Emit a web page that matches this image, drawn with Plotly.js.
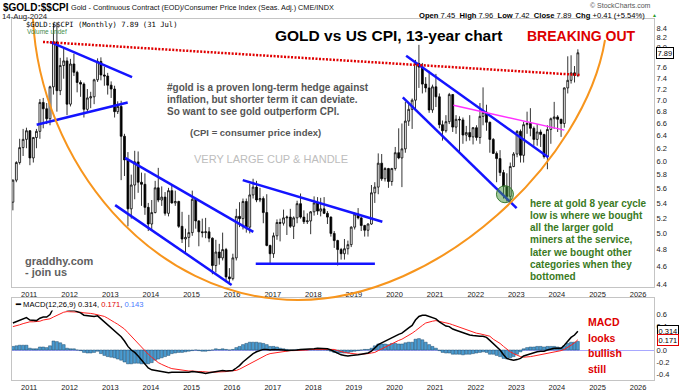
<!DOCTYPE html>
<html><head><meta charset="utf-8">
<script src="https://cdn.plot.ly/plotly-3.0.1.min.js"></script>
<style>html,body{margin:0;padding:0;background:#fff;}#chart{width:680px;height:391px;}</style>
</head><body><div id="chart"></div>
<script>
// ---------- DATA: $GOLD:$$CPI monthly, Aug 2010 .. Jul 2024 ----------
const firstYear = 2010, firstMonth = 8;
const open = [
5.41,5.72,5.98,6.21,6.34,
6.48,6.05,6.37,6.47,6.96,6.85,6.68,7.24,8.11,7.17,7.64,7.73,
6.93,7.67,7.51,7.32,7.29,6.84,7.04,7.06,7.37,7.72,7.46,7.44,
7.27,7.20,6.80,6.89,6.39,6.02,5.32,5.65,5.99,5.69,5.66,5.34,
5.12,5.27,5.61,5.44,5.48,5.26,5.57,5.40,5.42,5.09,4.93,4.95,
5.01,5.45,5.16,5.02,5.01,5.02,4.94,4.61,4.77,4.70,4.80,4.48,
4.46,4.70,5.22,5.19,5.42,5.08,5.51,5.62,5.44,5.46,5.27,4.85,
4.75,4.97,5.14,5.13,5.20,5.21,5.09,5.20,5.39,5.21,5.15,5.16,
5.28,5.40,5.29,5.32,5.26,5.21,5.00,4.91,4.80,4.75,4.81,4.86,
5.08,5.25,5.20,5.10,5.04,5.12,5.54,5.62,5.97,5.74,5.89,5.70,
5.89,6.13,6.05,6.19,6.64,6.84,7.00,7.68,7.61,7.29,7.22,6.83,
7.24,7.06,6.58,6.48,6.63,7.10,6.54,6.67,6.66,6.41,6.45,6.38,
6.53,6.37,6.72,6.79,6.62,6.34,6.12,6.04,5.83,5.63,5.49,5.92,
6.11,6.47,6.09,6.58,6.60,6.52,6.34,6.46,6.42,6.07,6.50,6.68,
6.71,6.67,6.60,7.22,7.36,7.50,7.45];
const high = [
5.73,6.00,6.35,6.51,6.53,
6.49,6.38,6.51,7.02,7.04,6.95,7.26,8.50,8.52,7.79,7.99,7.80,
7.77,7.87,7.54,7.36,7.32,7.20,7.15,7.39,7.78,7.80,7.62,7.50,
7.34,7.26,6.98,6.99,6.43,6.14,5.80,6.16,6.15,5.83,5.82,5.40,
5.44,5.71,5.90,5.63,5.55,5.61,5.66,5.57,5.43,5.28,5.06,5.24,
5.57,5.47,5.17,5.19,5.20,5.08,4.95,4.92,4.87,5.01,4.82,4.58,
4.75,5.32,5.41,5.46,5.46,5.67,5.74,5.71,5.61,5.49,5.52,4.86,
5.01,5.18,5.19,5.31,5.23,5.32,5.22,5.43,5.53,5.30,5.26,5.29,
5.49,5.48,5.47,5.48,5.29,5.22,5.03,4.92,4.82,4.93,4.91,5.09,
5.27,5.33,5.21,5.11,5.13,5.65,5.69,6.12,6.11,5.91,5.90,5.90,
6.22,6.52,6.60,6.97,6.93,7.03,7.75,8.05,7.69,7.42,7.54,7.28,
7.48,7.12,6.65,6.74,7.13,7.11,6.74,6.72,6.70,6.56,6.74,6.54,
6.57,6.95,7.23,6.92,6.63,6.36,6.15,6.17,5.87,5.82,5.98,6.14,
6.49,6.50,6.63,6.80,6.86,6.55,6.59,6.50,6.43,6.57,6.70,6.97,
6.74,6.68,7.23,7.82,7.84,7.63,7.96];
const low = [
5.30,5.69,5.95,6.08,6.20,
5.94,5.98,6.20,6.35,6.52,6.59,6.57,7.10,6.80,7.09,7.39,6.74,
6.89,7.44,7.14,7.06,6.70,6.80,6.86,6.93,7.33,7.36,7.26,7.10,
7.04,6.70,6.76,5.72,5.78,5.09,5.19,5.45,5.54,5.36,5.24,5.03,
5.03,5.26,5.41,5.36,5.23,5.22,5.39,5.36,5.07,4.88,4.77,4.83,
4.97,5.06,4.84,4.95,4.94,4.89,4.51,4.53,4.62,4.67,4.42,4.39,
4.44,4.67,5.08,5.05,5.01,5.00,5.46,5.41,5.41,5.13,4.84,4.63,
4.70,4.92,4.90,5.10,4.98,5.07,4.93,5.13,5.19,5.12,5.12,4.99,
5.23,5.24,5.22,5.25,5.12,4.96,4.82,4.61,4.68,4.68,4.74,4.83,
5.05,5.18,5.03,4.96,4.96,5.11,5.40,5.52,5.71,5.70,5.61,5.64,
5.86,6.03,5.62,6.13,6.56,6.51,6.82,7.22,7.12,7.14,6.78,6.78,
6.88,6.52,6.32,6.45,6.59,6.46,6.43,6.14,6.27,6.31,6.32,6.26,
6.32,6.27,6.57,6.48,6.13,6.11,5.69,5.78,5.46,5.42,5.41,5.91,
6.06,5.98,5.98,6.43,6.39,6.24,6.24,6.22,6.04,5.88,6.27,6.51,
6.46,6.38,6.53,7.12,7.30,7.32,7.42];
const close = [
5.72,5.98,6.21,6.34,6.48,
6.05,6.37,6.47,6.96,6.85,6.68,7.24,8.11,7.17,7.64,7.73,6.93,
7.67,7.51,7.32,7.29,6.84,7.04,7.06,7.37,7.72,7.46,7.44,7.27,
7.20,6.80,6.89,6.39,6.02,5.32,5.65,5.99,5.69,5.66,5.34,5.12,
5.27,5.61,5.44,5.48,5.26,5.57,5.40,5.42,5.09,4.93,4.95,5.01,
5.45,5.16,5.02,5.01,5.02,4.94,4.61,4.77,4.70,4.80,4.48,4.46,
4.70,5.22,5.19,5.42,5.08,5.51,5.62,5.44,5.46,5.27,4.85,4.75,
4.97,5.14,5.13,5.20,5.21,5.09,5.20,5.39,5.21,5.15,5.16,5.28,
5.40,5.29,5.32,5.26,5.21,5.00,4.91,4.80,4.75,4.81,4.86,5.08,
5.25,5.20,5.10,5.04,5.12,5.54,5.62,5.97,5.74,5.89,5.70,5.89,
6.13,6.05,6.19,6.64,6.84,7.00,7.68,7.61,7.29,7.22,6.83,7.24,
7.06,6.58,6.48,6.63,7.10,6.54,6.67,6.66,6.41,6.45,6.38,6.53,
6.37,6.72,6.79,6.62,6.34,6.12,6.04,5.83,5.63,5.49,5.92,6.11,
6.47,6.09,6.58,6.60,6.52,6.34,6.46,6.42,6.07,6.50,6.68,6.71,
6.67,6.60,7.22,7.36,7.50,7.45,7.89];
// MACD(12,26,9) line and signal line (monthly)
const macdLine = [
0.45,0.47,0.50,0.52,0.54,
0.50,0.49,0.49,0.53,0.55,0.55,0.59,0.70,0.72,0.73,0.72,0.67,
0.66,0.66,0.64,0.62,0.58,0.57,0.56,0.56,0.57,0.52,0.47,0.42,
0.37,0.33,0.28,0.22,0.15,0.06,0.00,-0.04,-0.10,-0.17,-0.24,-0.30,
-0.33,-0.34,-0.36,-0.37,-0.38,-0.38,-0.37,-0.37,-0.37,-0.38,-0.38,-0.37,
-0.36,-0.36,-0.37,-0.38,-0.39,-0.38,-0.37,-0.35,-0.35,-0.34,-0.35,-0.35,
-0.34,-0.30,-0.26,-0.20,-0.15,-0.10,-0.06,-0.03,-0.01,0.01,0.01,0.00,
0.01,0.01,0.00,0.00,-0.01,-0.01,-0.01,0.00,0.01,0.01,0.01,0.02,
0.02,0.03,0.03,0.03,0.02,0.00,-0.03,-0.06,-0.08,-0.09,-0.10,-0.09,
-0.09,-0.08,-0.07,-0.06,-0.05,-0.02,0.03,0.09,0.12,0.15,0.17,0.21,
0.24,0.26,0.28,0.33,0.37,0.41,0.50,0.56,0.58,0.58,0.56,0.54,
0.52,0.47,0.43,0.40,0.39,0.35,0.33,0.31,0.28,0.27,0.25,0.24,
0.23,0.23,0.23,0.21,0.16,0.11,0.06,0.00,-0.08,-0.14,-0.16,-0.17,
-0.16,-0.14,-0.10,-0.08,-0.06,-0.05,-0.03,-0.02,-0.02,0.00,0.02,0.03,
0.03,0.03,0.08,0.15,0.21,0.25,0.314];
const signalLine = [
0.39,0.40,0.42,0.44,0.46,
0.47,0.47,0.47,0.48,0.50,0.51,0.52,0.55,0.58,0.61,0.63,0.64,
0.64,0.64,0.64,0.63,0.62,0.62,0.61,0.60,0.59,0.58,0.56,0.53,
0.49,0.46,0.43,0.39,0.35,0.29,0.23,0.18,0.12,0.06,-0.01,-0.07,
-0.12,-0.17,-0.21,-0.24,-0.27,-0.29,-0.31,-0.32,-0.33,-0.34,-0.35,-0.35,
-0.35,-0.36,-0.36,-0.36,-0.37,-0.37,-0.37,-0.37,-0.36,-0.36,-0.36,-0.35,
-0.35,-0.34,-0.32,-0.29,-0.26,-0.23,-0.19,-0.16,-0.13,-0.10,-0.08,-0.06,
-0.05,-0.04,-0.03,-0.02,-0.02,-0.01,-0.01,-0.01,0.00,0.00,0.00,0.01,
0.01,0.01,0.02,0.02,0.02,0.02,0.01,-0.01,-0.03,-0.04,-0.05,-0.06,
-0.07,-0.07,-0.07,-0.07,-0.06,-0.05,-0.04,-0.01,0.02,0.05,0.08,0.10,
0.13,0.16,0.18,0.21,0.24,0.28,0.32,0.37,0.41,0.45,0.47,0.48,
0.49,0.48,0.47,0.45,0.44,0.42,0.40,0.38,0.36,0.34,0.32,0.30,
0.28,0.27,0.26,0.25,0.23,0.18,0.15,0.11,0.06,0.01,-0.03,-0.06,
-0.09,-0.11,-0.12,-0.12,-0.11,-0.10,-0.09,-0.08,-0.07,-0.06,-0.04,-0.03,
-0.02,-0.01,0.01,0.04,0.08,0.12,0.171];
const priceTicks = [4.4,4.6,4.8,5.0,5.2,5.4,5.6,5.8,6.0,6.2,6.4,6.6,6.8,7.0,7.2,7.4,7.6,8.0,8.2,8.4];
const macdTicks = [0.6,0.4,0.0,-0.2,-0.4];
const lastPrice = 7.89, macdLast = 0.314, signalLast = 0.171, histLast = 0.143;

// hand-drawn trendlines of the original (date, value)
const blueLines = [
  [['2011-07-08','2013-07-15'],[8.11,7.42]],
  [['2011-03-10','2013-06-06'],[6.58,6.96]],
  [['2013-05-13','2016-07-10'],[6.05,5.02]],
  [['2013-02-13','2015-12-28'],[5.37,4.39]],
  [['2016-04-06','2019-09-14'],[5.72,5.15]],
  [['2016-08-01','2019-07-09'],[4.63,4.63]],
  [['2020-04-15','2023-10-16'],[7.83,6.06]],
  [['2020-03-16','2023-01-04'],[7.05,5.33]]
];
const magentaLine = [['2021-06-14','2024-03-08'],[6.91,6.49]];
const redLine = [['2011-05-06','2024-07-26'],[8.11,7.46]];
const cycleLow = [['2022-09-21'],[5.52]];

// ---------- dates ----------
const dates = close.map((_, i) => {
  const m = firstMonth - 1 + i;
  const y = firstYear + Math.floor(m / 12);
  return y + '-' + String(m % 12 + 1).padStart(2, '0') + '-08';
});
const hist = macdLine.map((v, i) => v - signalLine[i]);

// ---------- geometry helpers (pixels -> paper) ----------
const PL = 12, PR = 654, PT = 19, PB = 380;
const px = x => (x - PL) / (PR - PL);
const py = y => (PB - y) / (PB - PT);
const FONT = 'Liberation Sans, Arial, sans-serif';

const traces = [];
traces.push({type:'candlestick', x:dates, open:open, high:high, low:low, close:close,
  xaxis:'x', yaxis:'y', whiskerwidth:0, hoverinfo:'skip',
  increasing:{line:{color:'#000', width:0.8}, fillcolor:'#ffffff'},
  decreasing:{line:{color:'#000', width:0.8}, fillcolor:'#000000'}});
blueLines.forEach(l => traces.push({type:'scatter', mode:'lines', x:l[0], y:l[1], xaxis:'x', yaxis:'y',
  line:{color:'#1414ff', width:2.5}, hoverinfo:'skip'}));
traces.push({type:'scatter', mode:'lines', x:magentaLine[0], y:magentaLine[1], xaxis:'x', yaxis:'y',
  line:{color:'#ff30ff', width:1.5}, hoverinfo:'skip'});
traces.push({type:'scatter', mode:'lines', x:redLine[0], y:redLine[1], xaxis:'x', yaxis:'y',
  line:{color:'#e00000', width:2.5, dash:'2px,1.5px'}, hoverinfo:'skip'});
traces.push({type:'scatter', mode:'markers', x:cycleLow[0], y:cycleLow[1], xaxis:'x', yaxis:'y',
  marker:{size:17, color:'rgba(70,150,60,0.5)', line:{color:'#3a7a30', width:1}}, hoverinfo:'skip'});
// MACD panel
traces.push({type:'bar', x:dates, y:hist, xaxis:'x2', yaxis:'y2',
  marker:{color:'#4a9bd0', line:{color:'#1e4d6e', width:0.5}}, hoverinfo:'skip'});
traces.push({type:'scatter', mode:'lines', x:dates, y:signalLine, xaxis:'x2', yaxis:'y2',
  line:{color:'#ff2020', width:1}, hoverinfo:'skip'});
traces.push({type:'scatter', mode:'lines', x:dates, y:macdLine, xaxis:'x2', yaxis:'y2',
  line:{color:'#000', width:1.5}, hoverinfo:'skip'});

function txt(text, x, y, size, color, opt) {
  opt = opt || {};
  return Object.assign({text:text, xref:'paper', yref:'paper', x:px(x), y:py(y),
    xanchor:opt.xa || 'left', yanchor:'middle', showarrow:false,
    font:{family:opt.family || FONT, size:size, color:color}}, opt.extra || {});
}
const ann = [];
ann.push(txt('<b>$GOLD:$$CPI</b>', 1, 7, 10, '#000'));
ann.push(txt('Gold - Continuous Contract (EOD)/Consumer Price Index (Seas. Adj.) CME/INDX', 69, 7.5, 7.3, '#111'));
ann.push(txt('14-Aug-2024', 0, 16, 7.8, '#222'));
ann.push(txt('© StockCharts.com', 653, 5.5, 7, '#555', {xa:'right'}));
ann.push(txt('<b>Open</b> 7.45  <b>High</b> 7.96  <b>Low</b> 7.42  <b>Close</b> 7.89  <b>Chg</b> +0.41 (+5.54%)', 647, 15, 7.6, '#000', {xa:'right'}));
ann.push(txt('▲', 650, 15, 5, '#2a9a2a'));
ann.push(txt('$GOLD:$$CPI (Monthly) 7.89 (31 Jul)', 24, 25, 7.2, '#000', {family:'DejaVu Sans Mono, monospace'}));
ann.push(txt('Volume undef', 25, 32, 6.5, '#3d8c4d'));
ann.push(txt('<b>GOLD vs US CPI, 13-year chart</b>', 273, 35.5, 15.5, '#000'));
ann.push(txt('<b>BREAKING OUT</b>', 525, 35.5, 14, '#dd0000'));
['#gold is a proven long-term hedge against','inflation, but shorter term it can deviate.','So want to see gold outperform CPI.']
  .forEach((s, i) => ann.push(txt('<b>' + s + '</b>', 165, 87.3 + 12.3 * i, 10, '#555')));
ann.push(txt('<b>(CPI = consumer price index)</b>', 188, 132.7, 9.5, '#555'));
ann.push(txt('VERY LARGE CUP &amp; HANDLE', 192, 159.3, 11, '#bdbdbd'));
ann.push(txt('<b>graddhy.com</b>', 23, 260.7, 11, '#606060'));
ann.push(txt('<b>- join us</b>', 23, 271.7, 11, '#606060'));
['here at gold 8 year cycle','low is where we bought','all the larger gold','miners at the service,','later we bought other','categories when they','bottomed']
  .forEach((s, i) => ann.push(txt('<b>' + s + '</b>', 528, 203 + 12.3 * i, 10, '#3a7a1e')));
['MACD','looks','bullish','still'].forEach((s, i) => ann.push(txt('<b>' + s + '</b>', 586, 322 + 15.5 * i, 10.5, '#dd0000')));
ann.push(txt('<b>━</b> MACD(12,26,9) ' + macdLast.toFixed(3) + ', <span style="color:#e00000">' + signalLast.toFixed(3) +
  '</span>, <span style="color:#4a7aff">' + histLast.toFixed(3) + '</span>', 13, 304, 7.6, '#000', {extra:{bgcolor:'#fff'}}));
// value tags on right axes
ann.push({text:lastPrice.toFixed(2), xref:'paper', yref:'y', x:px(665), y:Math.log10(lastPrice), xanchor:'center', yanchor:'middle',
  showarrow:false, bgcolor:'#fff', bordercolor:'#000', borderwidth:1, borderpad:0.5, font:{family:FONT, size:7.5, color:'#000'}});
ann.push({text:macdLast.toFixed(3), xref:'paper', yref:'y2', x:px(668), y:macdLast, xanchor:'center', yanchor:'middle',
  showarrow:false, bgcolor:'#fff', bordercolor:'#000', borderwidth:1, borderpad:0.5, font:{family:FONT, size:7.5, color:'#000'}});
ann.push({text:signalLast.toFixed(3), xref:'paper', yref:'y2', x:px(668), y:signalLast, xanchor:'center', yanchor:'middle',
  showarrow:false, bgcolor:'#fff', bordercolor:'#e00000', borderwidth:1, borderpad:0.5, font:{family:FONT, size:7.5, color:'#000'}});

// the hand-drawn orange "cup" arc (pixel control points -> paper)
const P = (x, y) => px(x).toFixed(4) + ',' + py(y).toFixed(4);
const arcPath = 'M' + P(33,19) + ' C' + P(40,160) + ' ' + P(150,300) + ' ' + P(298,300) +
                ' C' + P(440,300) + ' ' + P(585,160) + ' ' + P(605,40);

const xr = ['2010-07-31', '2026-05-24'];
const axCommon = {type:'date', range:xr, showgrid:false, showline:true, linecolor:'#c4c4c4', mirror:true,
  ticks:'', dtick:'M12', tick0:'2011-01-01', tickformat:'%Y', tickfont:{family:FONT, size:7.5, color:'#222'}, zeroline:false};
const mainDom = [py(287), 1], macdDom = [0, py(298)];
const layout = {
  width:680, height:391, margin:{l:PL, r:680-PR, t:PT, b:391-PB},
  paper_bgcolor:'#fff', plot_bgcolor:'#fff', showlegend:false, hovermode:false,
  boxgap:0.15,
  bargap:0.05,
  xaxis:Object.assign({}, axCommon, {anchor:'y', rangeslider:{visible:false}}),
  xaxis2:Object.assign({}, axCommon, {anchor:'y2', matches:'x'}),
  yaxis:{domain:mainDom, type:'log', range:[Math.log10(4.367), Math.log10(8.593)], side:'right',
    tickvals:priceTicks, ticktext:priceTicks.map(v => v.toFixed(1)), ticks:'',
    tickfont:{family:FONT, size:7.5, color:'#222'}, showgrid:false, showline:true, linecolor:'#c4c4c4', mirror:true, zeroline:false},
  yaxis2:{domain:macdDom, range:[-0.5, 0.867], side:'right', tickvals:macdTicks,
    ticktext:macdTicks.map(v => v.toFixed(1)), ticks:'', tickfont:{family:FONT, size:7.5, color:'#222'},
    showgrid:false, showline:true, linecolor:'#c4c4c4', mirror:true, zeroline:true, zerolinecolor:'#a8a8ff', zerolinewidth:1},
  shapes:[{type:'path', xref:'paper', yref:'paper', path:arcPath, line:{color:'#f7951d', width:2}, layer:'above'}],
  annotations:ann
};
Plotly.newPlot('chart', traces, layout, {staticPlot:true, displayModeBar:false});
</script></body></html>
